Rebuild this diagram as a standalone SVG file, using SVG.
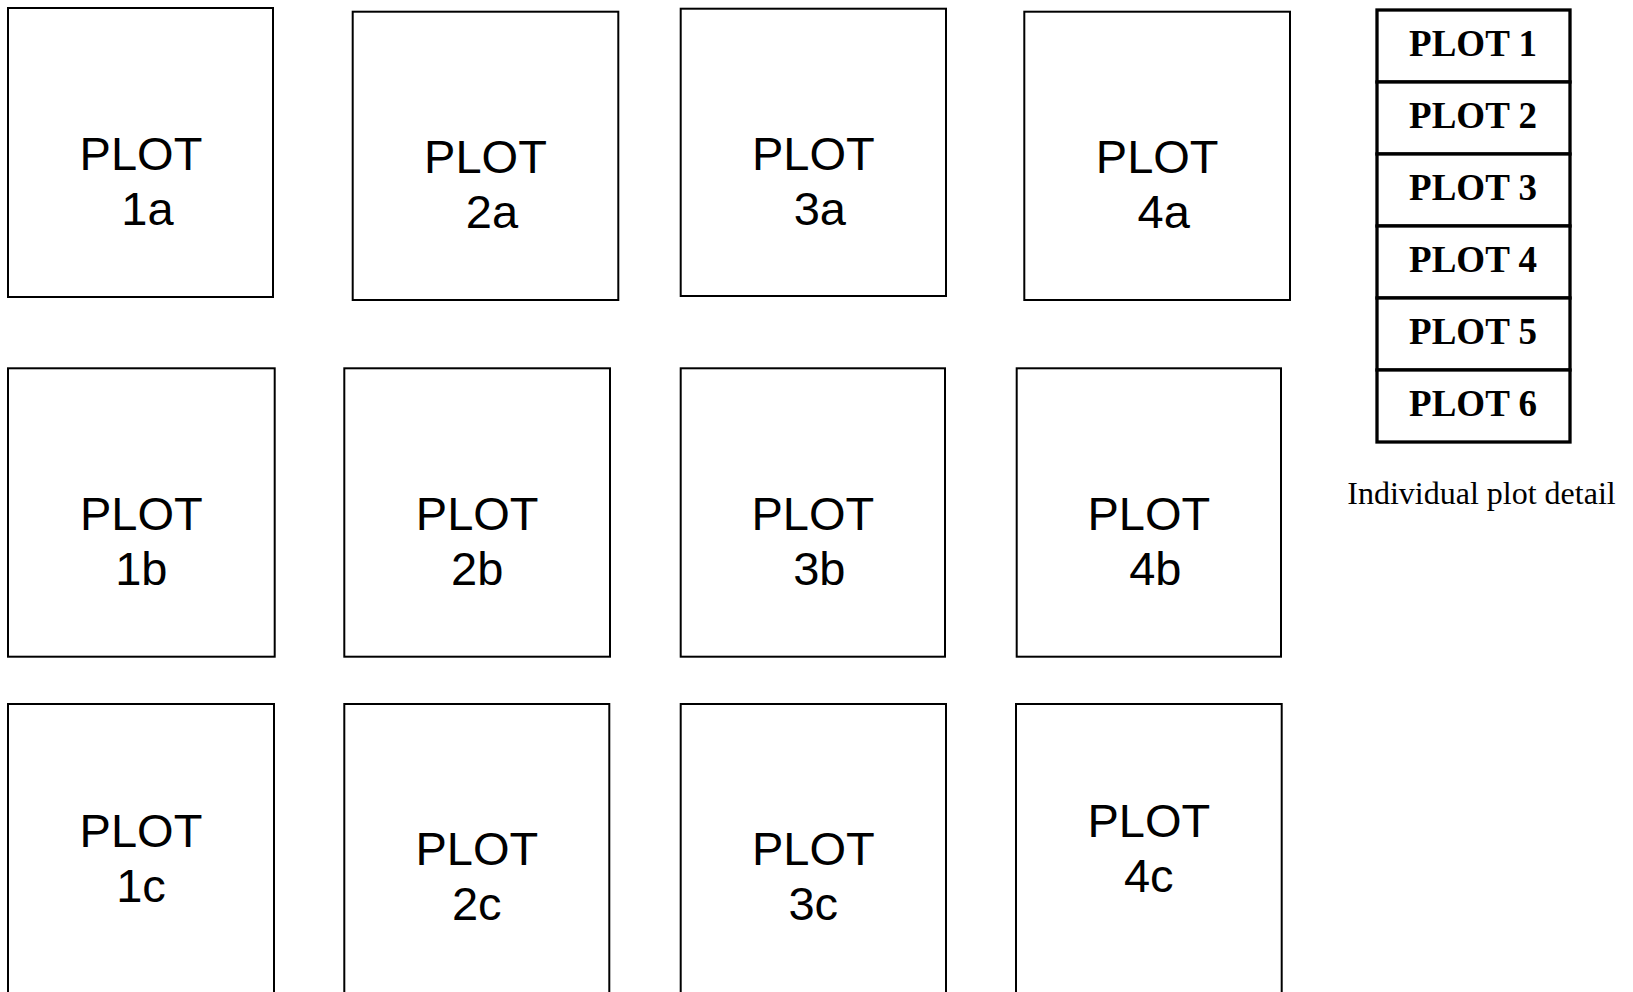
<svg xmlns="http://www.w3.org/2000/svg" width="1633" height="992" viewBox="0 0 1633 992">
<style>
.box{fill:#fff;stroke:#000;stroke-width:2}
.lbl{font-family:"Liberation Sans",Arial,sans-serif;font-size:47px;fill:#000;text-anchor:middle}
.tbl{fill:#fff;stroke:#000;stroke-width:3.3}
.tl{font-family:"Liberation Serif","Times New Roman",serif;font-size:37px;font-weight:bold;fill:#000;text-anchor:middle}
.cap{font-family:"Liberation Serif","Times New Roman",serif;font-size:32px;fill:#000;text-anchor:middle}
</style>
<rect width="1633" height="992" fill="#fff"/>
<g id="plot-1a"><rect class="box" x="8" y="8" width="265" height="289"/><text class="lbl" x="141" y="170">PLOT</text><text class="lbl" x="147.5" y="225">1a</text></g>
<g id="plot-2a"><rect class="box" x="352.7" y="11.7" width="265.6" height="288.3"/><text class="lbl" x="485.5" y="172.7">PLOT</text><text class="lbl" x="492" y="228.3">2a</text></g>
<g id="plot-3a"><rect class="box" x="680.7" y="8.7" width="265.3" height="287.3"/><text class="lbl" x="813.3" y="170">PLOT</text><text class="lbl" x="819.8" y="225">3a</text></g>
<g id="plot-4a"><rect class="box" x="1024.3" y="11.7" width="265.7" height="288.3"/><text class="lbl" x="1157.2" y="173.3">PLOT</text><text class="lbl" x="1163.7" y="228.3">4a</text></g>
<g id="plot-1b"><rect class="box" x="8" y="368.3" width="266.7" height="288.4"/><text class="lbl" x="141.3" y="530">PLOT</text><text class="lbl" x="141.3" y="585">1b</text></g>
<g id="plot-2b"><rect class="box" x="344.3" y="368.3" width="265.7" height="288.4"/><text class="lbl" x="477.2" y="530">PLOT</text><text class="lbl" x="477.2" y="585">2b</text></g>
<g id="plot-3b"><rect class="box" x="680.7" y="368.3" width="264.3" height="288.4"/><text class="lbl" x="812.8" y="530">PLOT</text><text class="lbl" x="819.3" y="585">3b</text></g>
<g id="plot-4b"><rect class="box" x="1016.7" y="368.3" width="264.3" height="288.4"/><text class="lbl" x="1148.8" y="530">PLOT</text><text class="lbl" x="1155.3" y="585">4b</text></g>
<g id="plot-1c"><rect class="box" x="8" y="704" width="266" height="300"/><text class="lbl" x="141" y="846.7">PLOT</text><text class="lbl" x="141" y="901.7">1c</text></g>
<g id="plot-2c"><rect class="box" x="344.3" y="704" width="265" height="300"/><text class="lbl" x="476.8" y="865">PLOT</text><text class="lbl" x="476.8" y="920">2c</text></g>
<g id="plot-3c"><rect class="box" x="680.7" y="704" width="265.3" height="300"/><text class="lbl" x="813.3" y="865">PLOT</text><text class="lbl" x="813.3" y="920">3c</text></g>
<g id="plot-4c"><rect class="box" x="1016" y="704" width="265.7" height="300"/><text class="lbl" x="1148.8" y="837.3">PLOT</text><text class="lbl" x="1148.8" y="891.7">4c</text></g>
<g id="plot-detail">
<rect class="tbl" x="1377" y="10" width="193" height="72"/><text class="tl" x="1473" y="55.5">PLOT 1</text>
<rect class="tbl" x="1377" y="82" width="193" height="72"/><text class="tl" x="1473" y="127.5">PLOT 2</text>
<rect class="tbl" x="1377" y="154" width="193" height="72"/><text class="tl" x="1473" y="200">PLOT 3</text>
<rect class="tbl" x="1377" y="226" width="193" height="72"/><text class="tl" x="1473" y="272">PLOT 4</text>
<rect class="tbl" x="1377" y="298" width="193" height="72"/><text class="tl" x="1473" y="343.8">PLOT 5</text>
<rect class="tbl" x="1377" y="370" width="193" height="72"/><text class="tl" x="1473" y="415.5">PLOT 6</text>
</g>
<g id="caption"><text class="cap" x="1481.5" y="504">Individual plot detail</text></g>
<g id="connectors"></g>
</svg>
